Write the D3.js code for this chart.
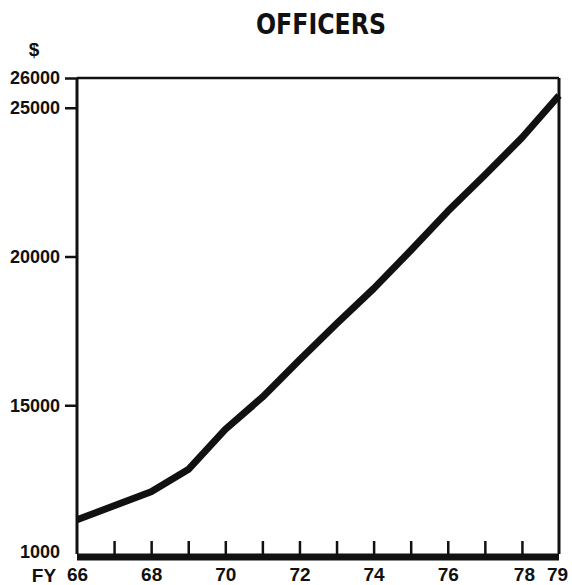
<!DOCTYPE html>
<html>
<head>
<meta charset="utf-8">
<script src="https://cdn.jsdelivr.net/npm/d3@7"></script>
<style>
  body { margin: 0; background: #fff; }
</style>
</head>
<body>
<div class="chart"></div>
<script>
// data (pay per officer, $)
var years = [66, 67, 68, 69, 70, 71, 72, 73, 74, 75, 76, 77, 78, 79];
var pay = [11150, 11620, 12090, 12840, 14190, 15270, 16520, 17740, 18920, 20200, 21520, 22740, 23990, 25410];

var yTicks = [26000, 25000, 20000, 15000, 10000];
var yTickLabels = ["26000", "25000", "20000", "15000", "1000"];
var xMinorTicks = [67, 68, 69, 70, 71, 72, 73, 74, 75, 76, 77, 78];
var xLabelYears = [66, 68, 70, 72, 74, 76, 78, 79];

// SVG size, margin
var svgWidth = 572;
var svgHeight = 585;

var margin = { top: 78, right: 13, bottom: 31, left: 77 };
var width = svgWidth - margin.left - margin.right;
var height = svgHeight - margin.top - margin.bottom;

var labelFont = "'Liberation Sans', Arial, sans-serif";

var svg = d3.select(".chart")
    .append("svg")
    .attr("width", svgWidth)
    .attr("height", svgHeight);

var chartGroup = svg.append("g")
    .attr("transform", `translate(${margin.left}, ${margin.top})`);

var xScale = d3.scaleLinear()
    .domain([66, 79])
    .range([0, width]);

var yScale = d3.scaleLinear()
    .domain([10000, 26000])
    .range([height, 0]);

// title
svg.append("text")
    .attr("x", 321)
    .attr("y", 34)
    .attr("text-anchor", "middle")
    .attr("textLength", 130)
    .attr("lengthAdjust", "spacingAndGlyphs")
    .style("font-family", "'Liberation Sans Narrow', 'DejaVu Sans Condensed', sans-serif")
    .style("font-weight", "bold")
    .style("font-size", "29px")
    .style("fill", "#111")
    .text("OFFICERS");

// $ unit label
svg.append("text")
    .attr("x", 34)
    .attr("y", 56)
    .attr("text-anchor", "middle")
    .style("font-family", labelFont)
    .style("font-weight", "bold")
    .style("font-size", "19px")
    .style("fill", "#111")
    .text("$");

// y axis
var leftAxis = d3.axisLeft(yScale)
    .tickValues(yTicks)
    .tickSize(12)
    .tickPadding(5)
    .tickFormat((d, i) => yTickLabels[i]);

var yAxis = chartGroup.append("g")
    .call(leftAxis);
yAxis.select(".domain").remove();
yAxis.selectAll(".tick line")
    .attr("stroke", "#111")
    .attr("stroke-width", 2.5)
    .filter(d => d === 10000).remove();
yAxis.selectAll(".tick text")
    .style("font-family", labelFont)
    .style("font-weight", "bold")
    .style("font-size", "18px")
    .style("fill", "#111")
    .filter(d => d === 10000)
    .attr("dy", "0.2em");

// x ticks (inward, up from the base)
var tickAxis = d3.axisBottom(xScale)
    .tickValues(xMinorTicks)
    .tickSize(-13)
    .tickFormat("");
var xTickGroup = chartGroup.append("g")
    .attr("transform", `translate(0, ${height})`)
    .call(tickAxis);
xTickGroup.select(".domain").remove();
xTickGroup.selectAll(".tick line")
    .attr("stroke", "#111")
    .attr("stroke-width", 2.5);

// x labels
var labelAxis = d3.axisBottom(xScale)
    .tickValues(xLabelYears)
    .tickSize(0)
    .tickPadding(14)
    .tickFormat(d3.format("d"));
var xLabelGroup = chartGroup.append("g")
    .attr("transform", `translate(0, ${height})`)
    .call(labelAxis);
xLabelGroup.select(".domain").remove();
xLabelGroup.selectAll(".tick text")
    .style("font-family", labelFont)
    .style("font-weight", "bold")
    .style("font-size", "19px")
    .style("fill", "#111")
    .attr("dx", d => d === 78 ? 2 : (d === 79 ? -2 : 0));

chartGroup.append("text")
    .attr("x", -33)
    .attr("y", height + 28)
    .attr("text-anchor", "middle")
    .style("font-family", labelFont)
    .style("font-weight", "bold")
    .style("font-size", "19px")
    .style("fill", "#111")
    .text("FY");

// frame: left, top, right, heavy base
chartGroup.append("line")
    .attr("x1", 0).attr("x2", 0)
    .attr("y1", yScale(26000)).attr("y2", height)
    .attr("stroke", "#111").attr("stroke-width", 3);
chartGroup.append("line")
    .attr("x1", 0).attr("x2", width)
    .attr("y1", yScale(26000)).attr("y2", yScale(26000))
    .attr("stroke", "#111").attr("stroke-width", 2.5);
chartGroup.append("line")
    .attr("x1", width).attr("x2", width)
    .attr("y1", yScale(26000)).attr("y2", height)
    .attr("stroke", "#111").attr("stroke-width", 3);
chartGroup.append("line")
    .attr("x1", 0).attr("x2", width)
    .attr("y1", height + 3).attr("y2", height + 3)
    .attr("stroke", "#111").attr("stroke-width", 7);

// pay line
var line = d3.line()
    .x((d, i) => xScale(years[i]))
    .y(d => yScale(d));

chartGroup.append("path")
    .datum(pay)
    .attr("d", line)
    .attr("fill", "none")
    .attr("stroke", "#111")
    .attr("stroke-width", 7)
    .attr("stroke-linejoin", "round");
</script>
</body>
</html>
